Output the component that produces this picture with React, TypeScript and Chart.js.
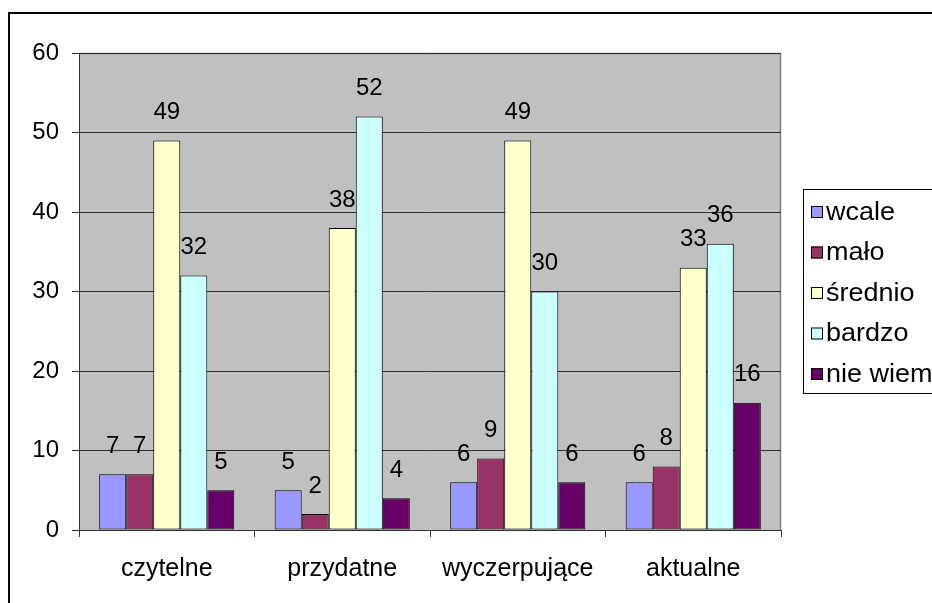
import React, { useEffect, useRef } from "react";
import { Chart, registerables } from "chart.js";

Chart.register(...registerables);

// Answer categories
const categories = ["czytelne", "przydatne", "wyczerpujące", "aktualne"];

// Series values per answer
const seriesNames = ["wcale", "mało", "średnio", "bardzo", "nie wiem"];
const wcale = [7, 5, 6, 6];
const malo = [7, 2, 9, 8];
const srednio = [49, 38, 49, 33];
const bardzo = [32, 52, 30, 36];
const nieWiem = [5, 4, 6, 16];
const seriesColors = ["#9999FF", "#993366", "#FFFFCC", "#CCFFFF", "#660066"];

// Value axis
const yMin = 0;
const yMax = 60;
const yStep = 10;

const FONT = "'Liberation Sans', Arial, sans-serif";

// Grey plot background with a thin border on top and right, plus the outer frame
const backgroundPlugin = {
  id: "plotBackground",
  beforeDraw(chart: any) {
    const { ctx, chartArea } = chart;
    const { left, top, right, bottom } = chartArea;
    ctx.save();
    ctx.fillStyle = "#ffffff";
    ctx.fillRect(0, 0, chart.width, chart.height);
    ctx.fillStyle = "#C0C0C0";
    ctx.fillRect(left, top, right - left, bottom - top);
    ctx.strokeStyle = "#808080";
    ctx.lineWidth = 1.5;
    ctx.beginPath();
    ctx.moveTo(left, top + 0.5);
    ctx.lineTo(right - 0.5, top + 0.5);
    ctx.lineTo(right - 0.5, bottom);
    ctx.stroke();
    // outer frame
    ctx.strokeStyle = "#000000";
    ctx.lineWidth = 2;
    ctx.beginPath();
    ctx.moveTo(9, chart.height + 5);
    ctx.lineTo(9, 13);
    ctx.lineTo(chart.width + 5, 13);
    ctx.stroke();
    ctx.restore();
  },
};

// Value labels above each bar
const valueLabelPlugin = {
  id: "valueLabels",
  afterDatasetsDraw(chart: any) {
    const { ctx } = chart;
    ctx.save();
    ctx.fillStyle = "#000000";
    ctx.font = `24px ${FONT}`;
    ctx.textAlign = "center";
    ctx.textBaseline = "middle";
    chart.data.datasets.forEach((ds: any, di: number) => {
      const meta = chart.getDatasetMeta(di);
      meta.data.forEach((bar: any, i: number) => {
        ctx.fillText(String(ds.data[i]), bar.x, bar.y - 28);
      });
    });
    ctx.restore();
  },
};

// Framed legend to the right of the plot
const legendPlugin = {
  id: "sideLegend",
  afterDraw(chart: any) {
    const { ctx } = chart;
    const boxLeft = 803;
    const boxTop = 189;
    const boxBottom = 393;
    const rowGap = 40.5;
    const firstRow = 212;
    ctx.save();
    ctx.fillStyle = "#ffffff";
    ctx.fillRect(boxLeft, boxTop, chart.width - boxLeft + 10, boxBottom - boxTop);
    ctx.strokeStyle = "#000000";
    ctx.lineWidth = 1;
    ctx.strokeRect(boxLeft + 0.5, boxTop + 0.5, chart.width - boxLeft + 10, boxBottom - boxTop);
    ctx.font = `25px ${FONT}`;
    ctx.textAlign = "left";
    ctx.textBaseline = "middle";
    chart.data.datasets.forEach((ds: any, i: number) => {
      const cy = firstRow + i * rowGap;
      ctx.fillStyle = ds.backgroundColor;
      ctx.fillRect(811, cy - 6, 12, 12);
      ctx.strokeStyle = "#000000";
      ctx.strokeRect(811.5, cy - 5.5, 11, 11);
      ctx.fillStyle = "#000000";
      // legend text is drawn slightly widened
      ctx.save();
      ctx.translate(826, cy + 1);
      ctx.scale(1.08, 1);
      ctx.fillText(ds.label, 0, 0);
      ctx.restore();
    });
    ctx.restore();
  },
};

export default function App() {
  const canvasRef = useRef<HTMLCanvasElement | null>(null);

  useEffect(() => {
    if (!canvasRef.current) return;
    const values = [wcale, malo, srednio, bardzo, nieWiem];
    const chart = new Chart(canvasRef.current, {
      type: "bar",
      data: {
        labels: categories,
        datasets: seriesNames.map((name, i) => ({
          label: name,
          data: values[i],
          backgroundColor: seriesColors[i],
          borderColor: "#000000",
          borderWidth: 1,
          borderSkipped: false,
          categoryPercentage: 0.77,
          barPercentage: 1,
        })),
      },
      options: {
        responsive: false,
        animation: false,
        devicePixelRatio: 1,
        layout: { padding: { left: 0, right: 151, top: 53, bottom: 0 } },
        plugins: {
          legend: { display: false },
          tooltip: { enabled: false },
          title: { display: false },
        },
        scales: {
          x: {
            grid: {
              display: true,
              drawOnChartArea: false,
              drawTicks: true,
              tickLength: 7,
              color: "#303030",
              offset: true,
            },
            border: { display: true, color: "#303030", width: 1 },
            ticks: {
              color: "#000000",
              font: { family: FONT, size: 25 },
              padding: 17,
              maxRotation: 0,
            },
            afterFit(scale: any) {
              scale.height = 73;
            },
          },
          y: {
            min: yMin,
            max: yMax,
            grid: {
              color: "#303030",
              tickLength: 7,
              drawTicks: true,
            },
            border: { display: true, color: "#303030", width: 1 },
            ticks: {
              stepSize: yStep,
              color: "#000000",
              font: { family: FONT, size: 24 },
              padding: 13,
            },
            afterFit(scale: any) {
              scale.width = 79;
            },
          },
        },
      },
      plugins: [backgroundPlugin, valueLabelPlugin, legendPlugin],
    });
    return () => chart.destroy();
  }, []);

  return (
    <div style={{ position: "absolute", left: 0, top: 0, width: 932, height: 603, overflow: "hidden" }}>
      <canvas ref={canvasRef} width={932} height={603} style={{ display: "block" }} />
    </div>
  );
}
